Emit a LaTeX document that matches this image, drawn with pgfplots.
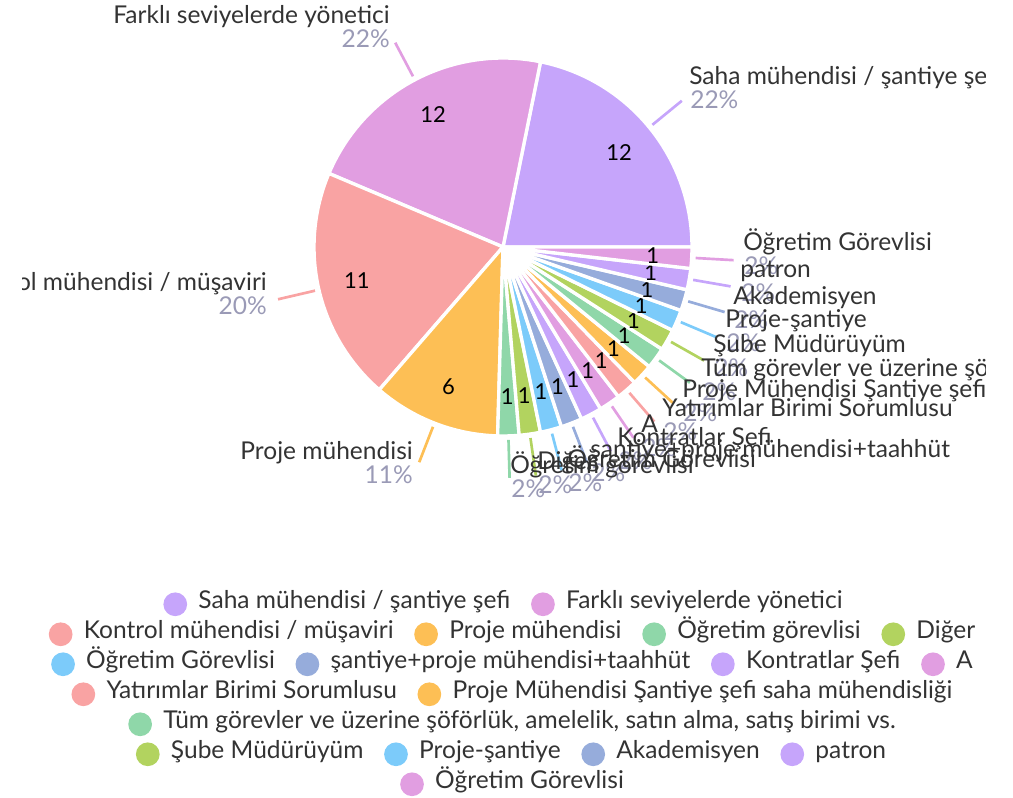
\documentclass[border=0pt]{standalone}
\usepackage{pgfplots}
\pgfplotsset{compat=1.18}
\usepackage{pgfplotstable}
\usepackage{fontspec}
\setmainfont{Lato}
\definecolor{cLav}{HTML}{C6A5FB}
\definecolor{cPink}{HTML}{E19EE1}
\definecolor{cSalmon}{HTML}{F9A3A3}
\definecolor{cOrange}{HTML}{FDBF55}
\definecolor{cMint}{HTML}{8FD7A9}
\definecolor{cLime}{HTML}{B2D35F}
\definecolor{cSky}{HTML}{7CCBFA}
\definecolor{cSteel}{HTML}{96ACDB}
\definecolor{txt}{HTML}{333333}
\definecolor{pctc}{HTML}{9A9AB6}

\pgfplotstableread[col sep=comma]{
value,color
12,cLav
12,cPink
11,cSalmon
6,cOrange
1,cMint
1,cLime
1,cSky
1,cSteel
1,cLav
1,cPink
1,cSalmon
1,cOrange
1,cMint
1,cLime
1,cSky
1,cSteel
1,cLav
1,cPink
}\piedata

\newcommand\lblfont{\fontsize{18.4}{21}\selectfont}
\newcommand\numfont{\fontsize{16.5}{19}\selectfont}
\newcommand\legitem[2]{\tikz[baseline=-0.38ex]\fill[#1] (0,0) circle (8.9pt);\hspace{8.5pt}#2}
\newcommand\legsep{\hspace{15.5pt}}
\newcommand\lblW[4]{%
  \node[anchor=base west,inner sep=0,text=pctc,font=\lblfont] at (#1+1,#2+24) {#4};
  \node[anchor=base west,inner sep=0,text=txt,font=\lblfont] at (#1,#2) {#3};}
\newcommand\lblE[4]{%
  \node[anchor=base east,inner sep=0,text=pctc,font=\lblfont] at (#1,#2+24) {#4};
  \node[anchor=base east,inner sep=0,text=txt,font=\lblfont] at (#1,#2) {#3};}

\begin{document}
\begin{tikzpicture}
\path[use as bounding box] (0,0) rectangle (759.75pt,598.5pt);
\clip (0,0) rectangle (759.75pt,598.5pt);
\begin{axis}[scale only axis, width=759.75pt, height=598.5pt,
  xmin=0, xmax=1013, ymin=0, ymax=798, hide axis, clip=false,
  anchor=south west, at={(0,0)}]
\pgfplotstablegetrowsof{\piedata}
\pgfmathtruncatemacro\sN{\pgfplotsretval-1}
\def\sTot{0}
\pgfplotsforeachungrouped \ii in {0,...,\sN}{%
  \pgfplotstablegetelem{\ii}{value}\of\piedata
  \pgfmathsetmacro\sTot{\sTot+\pgfplotsretval}%
}
\def\sCum{0}
\pgfplotsforeachungrouped \ii in {0,...,\sN}{%
  \pgfplotstablegetelem{\ii}{value}\of\piedata \edef\sV{\pgfplotsretval}%
  \pgfplotstablegetelem{\ii}{color}\of\piedata \edef\sC{\pgfplotsretval}%
  \pgfmathsetmacro\sA{\sCum/\sTot*360}%
  \pgfmathsetmacro\sB{(\sCum+\sV)/\sTot*360}%
  \pgfmathsetmacro\sM{(\sA+\sB)/2}%
  \pgfmathsetmacro\sLx{503+150*cos(\sM)}%
  \pgfmathsetmacro\sLy{551+150*sin(\sM)}%
  \pgfmathsetmacro\xA{503+193*cos(\sM)}%
  \pgfmathsetmacro\yA{551+193*sin(\sM)}%
  \pgfmathsetmacro\xB{503+231*cos(\sM)}%
  \pgfmathsetmacro\yB{551+231*sin(\sM)}%
  \edef\sCmd{\noexpand\addplot[fill=\sC, draw=white, line width=2.5pt, line join=round,
     domain=\sA:\sB, samples=40, variable=\noexpand\tt]
     ({503+189*cos(\noexpand\tt)},{551+189*sin(\noexpand\tt)}) -- (axis cs:503,551) -- cycle;
   \noexpand\draw[\sC, line width=2pt] (axis cs:\xA,\yA) -- (axis cs:\xB,\yB);
   \noexpand\node[font=\noexpand\numfont, text=black] at (axis cs:\sLx,\sLy) {\sV};}%
  \sCmd
  \pgfmathsetmacro\sCum{\sCum+\sV}%
}
\end{axis}
\begin{scope}[shift={(0,598.5pt)}, x=0.75pt, y=-0.75pt]
\begin{scope}
\clip (22,0) rectangle (985,540);
\lblW{689}{85}{Saha mühendisi / şantiye şefi}{22\%}
\lblE{390}{24}{Farklı seviyelerde yönetici}{22\%}
\lblE{267}{291}{Kontrol mühendisi / müşaviri}{20\%}
\lblE{413}{460}{Proje mühendisi}{11\%}
\lblW{743}{251}{Öğretim Görevlisi}{2\%}
\lblW{740}{278}{patron}{2\%}
\lblW{733}{305}{Akademisyen}{2\%}
\lblW{725}{328}{Proje-şantiye}{2\%}
\lblW{713}{353}{Şube Müdürüyüm}{2\%}
\lblW{701}{377}{Tüm görevler ve üzerine şöförlük, amelelik, satın alma, satış birimi vs.}{2\%}
\lblW{682}{398}{Proje Mühendisi Şantiye şefi saha mühendisliği}{2\%}
\lblW{662}{417}{Yatırımlar Birimi Sorumlusu}{2\%}
\lblW{641}{433}{A}{2\%}
\lblW{617}{446}{Kontratlar Şefi}{2\%}
\lblW{590}{458}{şantiye+proje mühendisi+taahhüt}{2\%}
\lblW{567}{468}{Öğretim Görevlisi}{2\%}
\lblW{537}{470}{Diğer}{2\%}
\lblW{510}{474}{Öğretim görevlisi}{2\%}
\end{scope}
\begin{scope}[every node/.style={anchor=base, inner sep=0, text=txt, font=\lblfont}]
\node at (503,609) {\legitem{cLav}{Saha mühendisi / şantiye şefi}\legsep\legitem{cPink}{Farklı seviyelerde yönetici}};
\node at (512,639) {\legitem{cSalmon}{Kontrol mühendisi / müşaviri}\legsep\legitem{cOrange}{Proje mühendisi}\legsep\legitem{cMint}{Öğretim görevlisi}\legsep\legitem{cLime}{Diğer}};
\node at (512,669) {\legitem{cSky}{Öğretim Görevlisi}\legsep\legitem{cSteel}{şantiye+proje mühendisi+taahhüt}\legsep\legitem{cLav}{Kontratlar Şefi}\legsep\legitem{cPink}{A}};
\node at (512,699) {\legitem{cSalmon}{Yatırımlar Birimi Sorumlusu}\legsep\legitem{cOrange}{Proje Mühendisi Şantiye şefi saha mühendisliği}};
\node at (512,729) {\legitem{cMint}{Tüm görevler ve üzerine şöförlük, amelelik, satın alma, satış birimi vs.}};
\node at (511,759) {\legitem{cLime}{Şube Müdürüyüm}\legsep\legitem{cSky}{Proje-şantiye}\legsep\legitem{cSteel}{Akademisyen}\legsep\legitem{cLav}{patron}};
\node at (512,789) {\legitem{cPink}{Öğretim Görevlisi}};
\end{scope}
\end{scope}
\end{tikzpicture}
\end{document}
